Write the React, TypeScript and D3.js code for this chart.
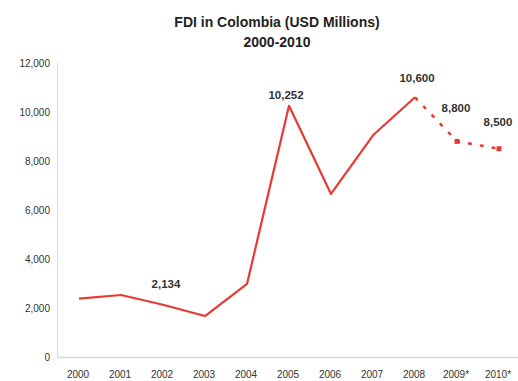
import React from "react";
import * as d3 from "d3";

const categories = ["2000", "2001", "2002", "2003", "2004", "2005", "2006", "2007", "2008", "2009*", "2010*"];
const actualYears = ["2000", "2001", "2002", "2003", "2004", "2005", "2006", "2007", "2008"];
const actualValues = [2380, 2530, 2134, 1673, 2980, 10252, 6656, 9049, 10600];
const projYears = ["2008", "2009*", "2010*"];
const projValues = [10600, 8800, 8500];
const yTicks = [0, 2000, 4000, 6000, 8000, 10000, 12000];
const labelled = [
  { year: "2002", value: 2134, text: "2,134" },
  { year: "2005", value: 10252, text: "10,252" },
  { year: "2008", value: 10600, text: "10,600" },
  { year: "2009*", value: 8800, text: "8,800" },
  { year: "2010*", value: 8500, text: "8,500" },
];
const titleLines = ["FDI in Colombia (USD Millions)", "2000-2010"];

const W = 518;
const H = 381;
const RED = "#e63a33";
const FONT = "'Liberation Sans', Arial, sans-serif";

export default function App() {
  const x = d3.scaleBand<string>().domain(categories).range([58, 520]);
  const cx = (c: string) => (x(c) as number) + x.bandwidth() / 2;
  const y = d3.scaleLinear().domain([0, 12000]).range([357, 63]);
  const fmt = d3.format(",");

  const line = d3.line<[string, number]>().x((d) => cx(d[0])).y((d) => y(d[1]));
  const actualPath = line(actualYears.map((c, i) => [c, actualValues[i]] as [string, number]));
  const projPath = line(projYears.map((c, i) => [c, projValues[i]] as [string, number]));

  const labelOffsets: Record<string, [number, number]> = {
    "2002": [3, -21],
    "2005": [-3, -11],
    "2008": [2, -19],
    "2009*": [-1, -33],
    "2010*": [-1, -27],
  };

  return (
    <svg width={W} height={H} style={{ position: "absolute", left: 0, top: 0, background: "#fff" }} fontFamily={FONT}>
      <rect x={0} y={0} width={W} height={H} fill="#fff" />
      {titleLines.map((t, i) => (
        <text key={t} x={277} y={22 + i * 20} dy="0.35em" textAnchor="middle" fontSize={14} fontWeight="bold" fill="#222">
          {t}
        </text>
      ))}
      <line x1={57.5} x2={57.5} y1={63} y2={357.5} stroke="#d9d9d9" strokeWidth={1} />
      <line x1={57} x2={520} y1={357.5} y2={357.5} stroke="#d9d9d9" strokeWidth={1.5} />
      {yTicks.map((t) => (
        <text key={t} x={50} y={y(t)} dy="0.35em" textAnchor="end" fontSize={10} fill="#333">
          {fmt(t)}
        </text>
      ))}
      {categories.map((c) => (
        <text key={c} x={cx(c) - 1} y={374} dy="0.35em" textAnchor="middle" fontSize={10} fill="#333">
          {c}
        </text>
      ))}
      <path d={actualPath || ""} fill="none" stroke={RED} strokeWidth={2.2} strokeLinejoin="round" />
      <path d={projPath || ""} fill="none" stroke={RED} strokeWidth={2.5} strokeDasharray="4,8" />
      {projYears.slice(1).map((c, i) => (
        <rect key={c} x={cx(c) - 2.5} y={y(projValues[i + 1]) - 2.5} width={5} height={5} fill={RED} />
      ))}
      {labelled.map((l) => {
        const [dx, dy] = labelOffsets[l.year];
        return (
          <text key={l.year} x={cx(l.year) + dx} y={y(l.value) + dy} dy="0.35em" textAnchor="middle" fontSize={11.5} fontWeight="bold" fill="#333">
            {l.text}
          </text>
        );
      })}
    </svg>
  );
}
